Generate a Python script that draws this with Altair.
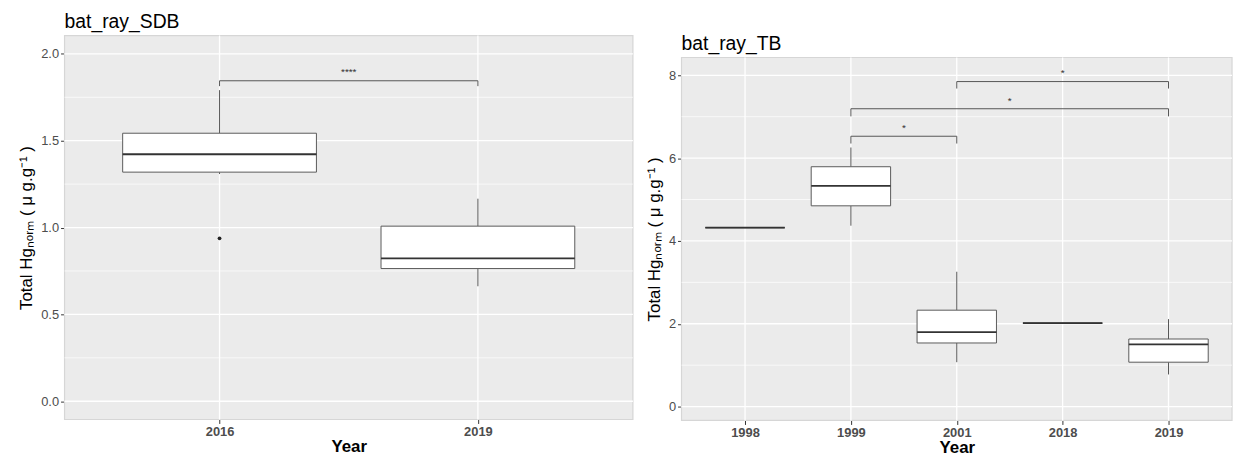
import json
import altair as alt
import pandas as pd

FONT = "Liberation Sans"
BOX_HALF = 0.375

# ---------------- data: bat_ray_SDB ----------------
years_sdb = ["2016", "2019"]
sdb_lower = [1.308, 0.662]
sdb_q1 = [1.319, 0.764]
sdb_median = [1.422, 0.823]
sdb_q3 = [1.543, 1.008]
sdb_upper = [1.791, 1.166]
sdb_outlier_year = ["2016"]
sdb_outlier_value = [0.938]
sdb_br_from = ["2016"]
sdb_br_to = ["2019"]
sdb_br_y = [1.845]
sdb_br_tip = [1.814]
sdb_br_label = ["****"]
sdb_br_label_y = [1.896]
sdb_ylim = [-0.105, 2.105]
sdb_major = [0.0, 0.5, 1.0, 1.5, 2.0]
sdb_minor = [0.25, 0.75, 1.25, 1.75]

# ---------------- data: bat_ray_TB ----------------
years_tb = ["1998", "1999", "2001", "2018", "2019"]
tb_lower = [4.32, 4.368, 1.072, 2.016, 0.776]
tb_q1 = [4.32, 4.848, 1.536, 2.016, 1.072]
tb_median = [4.32, 5.328, 1.800, 2.016, 1.504]
tb_q3 = [4.32, 5.792, 2.328, 2.016, 1.632]
tb_upper = [4.32, 6.256, 3.256, 2.016, 2.112]
tb_outlier_year = []
tb_outlier_value = []
tb_br_from = ["1999", "1999", "2001"]
tb_br_to = ["2001", "2019", "2019"]
tb_br_y = [6.528, 7.192, 7.848]
tb_br_tip = [6.352, 7.008, 7.680]
tb_br_label = ["*", "*", "*"]
tb_br_label_y = [6.73, 7.39, 8.056]
tb_ylim = [-0.335, 8.43]
tb_major = [0, 2, 4, 6, 8]
tb_minor = [1, 3, 5, 7]

Y_TITLE = "Total Hgₙₒᵣₘ ( μ g.g⁻¹ )"


def panel(title, years, lower, q1, med, q3, upper, out_years, out_vals,
          br_from, br_to, br_y, br_tip, br_label, br_label_y,
          ylim, scale_top, major, minor, width, height, fmt,
          title_px, ytitle_px):
    n = len(years)
    pos = {y: i + 1 for i, y in enumerate(years)}
    x_lo, x_hi = 0.4, n + 0.6

    xs = alt.Scale(domain=[x_lo, x_hi], nice=False, zero=False)
    ys = alt.Scale(domain=[ylim[0], scale_top], nice=False, zero=False)
    label_expr = json.dumps(years) + "[round(datum.value) - 1]"
    x_ax = alt.Axis(values=list(range(1, n + 1)), labelExpr=label_expr,
                    title="Year", grid=False, domain=False,
                    tickColor="#333333", tickSize=4, tickWidth=1,
                    labelFont=FONT, labelFontSize=13, labelFontWeight="bold",
                    labelColor="#4D4D4D", labelPadding=2,
                    titleFont=FONT, titleFontSize=17, titleFontWeight="bold",
                    titleColor="black", titlePadding=0)
    y_ax = alt.Axis(values=major, format=fmt, title=Y_TITLE, grid=False,
                    domain=False, tickColor="#333333", tickSize=4, tickWidth=1,
                    labelFont=FONT, labelFontSize=13, labelColor="#4D4D4D",
                    labelPadding=2, titleFont=FONT, titleFontSize=17,
                    titleFontWeight="normal", titleColor="black",
                    titlePadding=5, titleY=ytitle_px)

    def X(f):
        return alt.X(f, type="quantitative", scale=xs, axis=x_ax)

    def Y(f):
        return alt.Y(f, type="quantitative", scale=ys, axis=y_ax)

    # panel background
    bg = pd.DataFrame({"x0": [x_lo], "x1": [x_hi], "y0": [ylim[0]], "y1": [ylim[1]]})
    panel_rect = alt.Chart(bg).mark_rect(fill="#EBEBEB", stroke="#D6D6D6", strokeWidth=1.2).encode(
        x=X("x0"), x2="x1", y=Y("y0"), y2="y1")

    gmaj = pd.DataFrame({"v": major, "x0": x_lo, "x1": x_hi})
    gmin = pd.DataFrame({"v": minor, "x0": x_lo, "x1": x_hi})
    gx = pd.DataFrame({"p": list(range(1, n + 1)), "y0": ylim[0], "y1": ylim[1]})
    grid_major = alt.Chart(gmaj).mark_rule(color="white", strokeWidth=1.3).encode(
        x=X("x0"), x2="x1", y=Y("v"))
    grid_minor = alt.Chart(gmin).mark_rule(color="white", strokeWidth=0.7).encode(
        x=X("x0"), x2="x1", y=Y("v"))
    grid_x = alt.Chart(gx).mark_rule(color="white", strokeWidth=1.3).encode(
        x=X("p"), y=Y("y0"), y2="y1")

    df = pd.DataFrame({"year": years, "lower": lower, "q1": q1, "median": med,
                       "q3": q3, "upper": upper})
    df["pos"] = [pos[y] for y in years]
    base = alt.Chart(df).transform_calculate(
        left=f"datum.pos - {BOX_HALF}", right=f"datum.pos + {BOX_HALF}")

    whisk_hi = base.mark_rule(color="#555555", strokeWidth=1).encode(
        x=X("pos"), y=Y("q3"), y2="upper")
    whisk_lo = base.mark_rule(color="#555555", strokeWidth=1).encode(
        x=X("pos"), y=Y("lower"), y2="q1")
    boxes = base.mark_rect(fill="white", stroke="#5A5A5A", strokeWidth=1).encode(
        x=X("left:Q"), x2="right:Q", y=Y("q1"), y2="q3")
    medians = base.mark_rule(color="#333333", strokeWidth=1.8).encode(
        x=X("left:Q"), x2="right:Q", y=Y("median"))

    layers = [panel_rect, grid_minor, grid_major, grid_x, whisk_hi, whisk_lo, boxes, medians]

    if out_years:
        od = pd.DataFrame({"pos": [pos[y] for y in out_years], "v": out_vals})
        layers.append(alt.Chart(od).mark_circle(color="#222222", size=14, opacity=1).encode(
            x=X("pos"), y=Y("v")))

    bd = pd.DataFrame({"a": [pos[y] for y in br_from], "b": [pos[y] for y in br_to],
                       "y": br_y, "tip": br_tip, "lab": br_label, "ly": br_label_y})
    bbase = alt.Chart(bd).transform_calculate(mid="(datum.a + datum.b) / 2")
    layers += [
        bbase.mark_rule(color="#555555", strokeWidth=1).encode(x=X("a"), x2="b", y=Y("y")),
        bbase.mark_rule(color="#555555", strokeWidth=1).encode(x=X("a"), y=Y("tip"), y2="y"),
        bbase.mark_rule(color="#555555", strokeWidth=1).encode(x=X("b"), y=Y("tip"), y2="y"),
        bbase.mark_text(font=FONT, fontSize=10, color="#333333", baseline="middle").encode(
            x=X("mid:Q"), y=Y("ly"), text="lab:N"),
    ]

    td = pd.DataFrame({"t": [title]})
    layers.append(alt.Chart(td).mark_text(font=FONT, fontSize=19.5, color="black",
                                          align="left", baseline="alphabetic").encode(
        x=alt.value(0), y=alt.value(title_px), text="t:N"))

    return alt.layer(*layers).properties(
        width=width, height=height,
        view=alt.ViewBackground(stroke="transparent", strokeWidth=0, fill="transparent"))


left = panel("bat_ray_SDB", years_sdb, sdb_lower, sdb_q1, sdb_median, sdb_q3, sdb_upper,
             sdb_outlier_year, sdb_outlier_value, sdb_br_from, sdb_br_to, sdb_br_y,
             sdb_br_tip, sdb_br_label, sdb_br_label_y, sdb_ylim, sdb_ylim[1],
             sdb_major, sdb_minor, 573, 387, ".1f", -8, 193.5)

# right panel: view starts at the same top as the left one; panel drawn lower
tb_scale_top = 8.958
right = panel("bat_ray_TB", years_tb, tb_lower, tb_q1, tb_median, tb_q3, tb_upper,
              tb_outlier_year, tb_outlier_value, tb_br_from, tb_br_to, tb_br_y,
              tb_br_tip, tb_br_label, tb_br_label_y, tb_ylim, tb_scale_top,
              tb_major, tb_minor, 555, 388, "d", 15, 205)

chart = alt.hconcat(left, right, spacing=49, bounds="flush").properties(
    padding={"left": 9, "top": 2, "right": 2, "bottom": 0}
).configure_view(stroke="transparent", fill="transparent", strokeWidth=0).configure(font=FONT)

chart.save("out.html", embed_options={"renderer": "svg", "actions": False})
